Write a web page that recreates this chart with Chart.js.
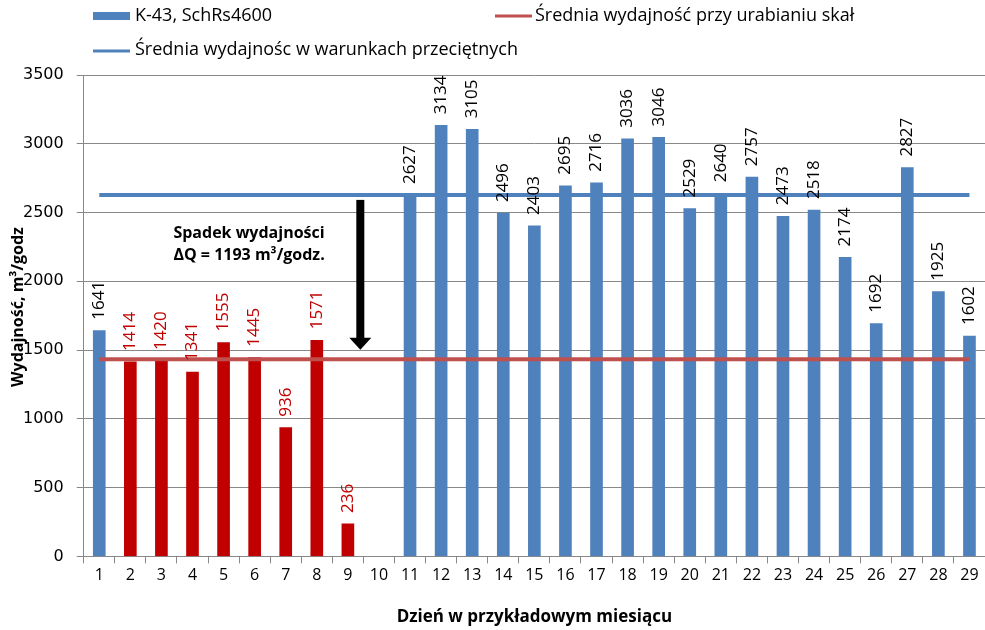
<!DOCTYPE html>
<html>
<head>
    <meta charset="UTF-8">
    <title>Wydajność K-43</title>
    <script src="https://cdn.jsdelivr.net/npm/chart.js"></script>
    <style>
        body { margin: 0; background: #fff; }
        .chart-container { position: relative; width: 985px; height: 630px; }
    </style>
</head>
<body>
    <div class="chart-container">
        <canvas id="wydajnoscChart"></canvas>
    </div>

    <script>
        // Data
        var days = ['1','2','3','4','5','6','7','8','9','10','11','12','13','14','15','16','17','18','19','20','21','22','23','24','25','26','27','28','29'];
        var output = [1641, 1414, 1420, 1341, 1555, 1445, 936, 1571, 236, null, 2627, 3134, 3105, 2496, 2403, 2695, 2716, 3036, 3046, 2529, 2640, 2757, 2473, 2518, 2174, 1692, 2827, 1925, 1602];
        // days when working in rock (red bars)
        var rockDays = ['2','3','4','5','6','7','8','9'];
        var avgNormal = 2627;
        var avgRock = 1434;
        var deltaQ = 1193;
        var yTicks = [0, 500, 1000, 1500, 2000, 2500, 3000, 3500];

        var BLUE = '#4F81BD';
        var RED_BAR = '#C00000';
        var RED_LINE = '#C0504D';
        var FONT = "'Open Sans', sans-serif";

        var barColors = days.map(function (d) { return rockDays.indexOf(d) >= 0 ? RED_BAR : BLUE; });
        var labelColors = days.map(function (d) { return rockDays.indexOf(d) >= 0 ? RED_BAR : '#000'; });

        // value labels above bars, rotated
        var barLabels = {
            id: 'barLabels',
            afterDatasetsDraw: function (chart) {
                var ctx = chart.ctx;
                var meta = chart.getDatasetMeta(2);
                ctx.save();
                ctx.font = '17px ' + FONT;
                ctx.textAlign = 'left';
                ctx.textBaseline = 'middle';
                meta.data.forEach(function (bar, i) {
                    if (output[i] === null) return;
                    ctx.save();
                    ctx.translate(bar.x, bar.y - 11);
                    ctx.rotate(-Math.PI / 2);
                    ctx.fillStyle = labelColors[i];
                    ctx.fillText(String(output[i]), 0, 0);
                    ctx.restore();
                });
                ctx.restore();
            }
        };

        // arrow + text showing the drop, y axis title
        var dropNote = {
            id: 'dropNote',
            afterDatasetsDraw: function (chart) {
                var ctx = chart.ctx;
                var xs = chart.scales.x, ys = chart.scales.y;
                var x9 = xs.getPixelForValue(8), x10 = xs.getPixelForValue(9);
                var ax = x9 + 0.4 * (x10 - x9);
                var top = ys.getPixelForValue(2592);
                var tip = ys.getPixelForValue(1503);
                ctx.save();
                ctx.fillStyle = '#000';
                ctx.fillRect(ax - 4, top, 8, tip - top - 11);
                ctx.beginPath();
                ctx.moveTo(ax - 11, tip - 12);
                ctx.lineTo(ax + 11, tip - 12);
                ctx.lineTo(ax, tip);
                ctx.closePath();
                ctx.fill();

                ctx.font = 'bold 16px ' + FONT;
                ctx.textAlign = 'left';
                ctx.textBaseline = 'middle';
                var tx = xs.getPixelForValue(2) + 12;
                ctx.fillText('Spadek wydajności', tx, ys.getPixelForValue(2345));
                ctx.fillText('\u0394Q = ' + deltaQ + ' m\u00B3/godz.', tx, ys.getPixelForValue(2186));

                // y axis title, overlapping tick labels as in the original
                ctx.translate(18, 307);
                ctx.rotate(-Math.PI / 2);
                ctx.textAlign = 'center';
                ctx.fillText('Wydajność, m\u00B3/godz', 0, 0);
                ctx.restore();
            }
        };

        // legend drawn in two rows like the original
        var topLegend = {
            id: 'topLegend',
            afterDraw: function (chart) {
                var ctx = chart.ctx;
                ctx.save();
                ctx.font = '18px ' + FONT;
                ctx.textBaseline = 'middle';
                ctx.fillStyle = BLUE;
                ctx.fillRect(93, 12, 37, 8);
                ctx.fillStyle = '#000';
                ctx.fillText('K-43, SchRs4600', 135, 16);

                ctx.strokeStyle = RED_LINE;
                ctx.lineWidth = 3;
                ctx.beginPath(); ctx.moveTo(495, 16); ctx.lineTo(532, 16); ctx.stroke();
                ctx.fillText('Średnia wydajność przy urabianiu skał', 535, 16);

                ctx.strokeStyle = BLUE;
                ctx.beginPath(); ctx.moveTo(93, 51); ctx.lineTo(130, 51); ctx.stroke();
                ctx.fillText('Średnia wydajnośc w warunkach przeciętnych', 135, 50);
                ctx.restore();
            }
        };

        var ctx = document.getElementById('wydajnoscChart').getContext('2d');
        var chart = new Chart(ctx, {
            data: {
                labels: days,
                datasets: [{
                    type: 'line',
                    label: 'Średnia wydajność przy urabianiu skał',
                    data: days.map(function () { return avgRock; }),
                    borderColor: RED_LINE,
                    borderWidth: 4,
                    pointRadius: 0,
                    fill: false,
                    order: 0
                }, {
                    type: 'line',
                    label: 'Średnia wydajnośc w warunkach przeciętnych',
                    data: days.map(function () { return avgNormal; }),
                    borderColor: BLUE,
                    borderWidth: 4,
                    pointRadius: 0,
                    fill: false,
                    order: 1
                }, {
                    type: 'bar',
                    label: 'K-43, SchRs4600',
                    data: output,
                    backgroundColor: barColors,
                    barThickness: 12,
                    order: 2
                }]
            },
            options: {
                responsive: true,
                maintainAspectRatio: false,
                animation: false,
                layout: { padding: { top: 75, left: 10, right: 0, bottom: 3 } },
                plugins: {
                    legend: { display: false },
                    tooltip: { enabled: false }
                },
                scales: {
                    x: {
                        offset: true,
                        grid: { drawOnChartArea: false, drawTicks: true, tickLength: 7, color: '#888', offset: true },
                        border: { color: '#888' },
                        ticks: { color: '#000', font: { family: FONT, size: 16 }, padding: 2, maxRotation: 0, autoSkip: false },
                        title: { display: true, text: 'Dzień w przykładowym miesiącu', color: '#000', font: { family: FONT, size: 17, weight: 'bold' }, padding: { top: 20, bottom: 0 } }
                    },
                    y: {
                        min: 0,
                        max: 3500,
                        afterBuildTicks: function (axis) { axis.ticks = yTicks.map(function (v) { return { value: v }; }); },
                        grid: { color: '#888', tickLength: 7 },
                        border: { color: '#888' },
                        ticks: {
                            color: '#000',
                            font: { family: "'DejaVu Sans', sans-serif", size: 16 },
                            padding: 13,
                            callback: function (v) { return String(v); }
                        }
                    }
                }
            },
            plugins: [barLabels, dropNote, topLegend]
        });
    </script>
</body>
</html>
